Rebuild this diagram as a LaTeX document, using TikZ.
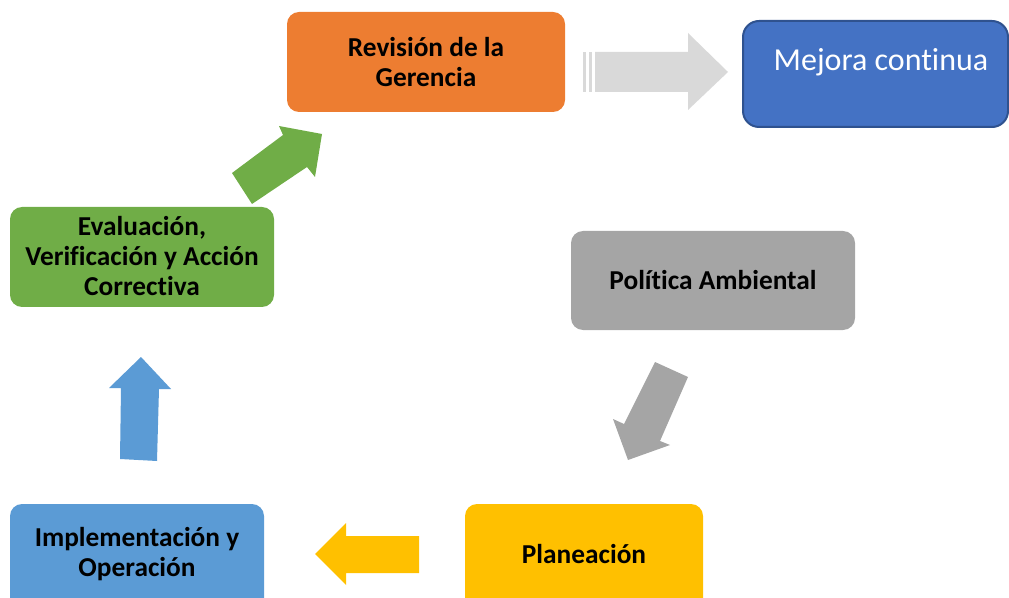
\documentclass[tikz,border=0pt]{standalone}
\usepackage{fontspec}
\setmainfont{Carlito}[Ligatures={NoCommon}]
\definecolor{cOrange}{HTML}{ED7D31}
\definecolor{cBlue}{HTML}{4472C4}
\definecolor{cBlueDark}{HTML}{2F528F}
\definecolor{cGreen}{HTML}{70AD47}
\definecolor{cGray}{HTML}{A5A5A5}
\definecolor{cLight}{HTML}{D9D9D9}
\definecolor{cYellow}{HTML}{FFC000}
\definecolor{cSky}{HTML}{5B9BD5}
\begin{document}
\begin{tikzpicture}[x=0.75pt,y=-0.75pt,
  lbl/.style={font=\bfseries\fontsize{20.5}{22.5}\selectfont,align=center,text=black,inner sep=0pt}]
\useasboundingbox (0,0) rectangle (1009,598);
% boxes
\fill[cOrange,rounded corners=9pt] (287,12) rectangle (565,112);
\node[lbl] (rev) at (426,62) {Revisión de la\\Gerencia};
\draw[cBlueDark,fill=cBlue,line width=1.5pt,rounded corners=12pt] (743,21) rectangle (1008,127);
\node[font=\fontsize{24}{28}\selectfont,text=white,inner sep=0pt] (mej) at (881,62) {Mejora continua};
\fill[cGreen,rounded corners=9pt] (10,207) rectangle (274,307);
\node[lbl] (eva) at (142,256) {Evaluación,\\Verificación y Acción\\Correctiva};
\fill[cGray,rounded corners=9pt] (571,231) rectangle (855,330);
\node[lbl] (pol) at (713,280) {Política Ambiental};
\fill[cYellow,rounded corners=9pt] (465,504) rectangle (703,610);
\node[lbl] (pla) at (584,554) {Planeación};
\fill[cSky,rounded corners=9pt] (10,504) rectangle (264,610);
\node[lbl] (imp) at (137,554) {Implementación y\\Operación};
% arrows
\fill[cLight] (583,52) rectangle (586,92);
\fill[cLight] (589,52) rectangle (592,92);
\fill[cLight] (595,52) -- (688,52) -- (688,33) -- (728,72) -- (688,110) -- (688,92) -- (595,92) -- cycle;
\fill[cGreen] (232,173) -- (283,135) -- (279,126) -- (322,134) -- (315,177) -- (307,167) -- (252,204) -- cycle;
\fill[cGray] (655,362) -- (688,377) -- (660,441) -- (670,445) -- (628,460) -- (613,419) -- (624,424) -- cycle;
\fill[cYellow] (315,554) -- (346,523) -- (346,536) -- (419,536) -- (419,573) -- (346,573) -- (346,585) -- cycle;
\fill[cSky] (141,357) -- (171,389) -- (159,389) -- (157,461) -- (120,459) -- (121,388) -- (109,388) -- cycle;
\end{tikzpicture}
\end{document}
